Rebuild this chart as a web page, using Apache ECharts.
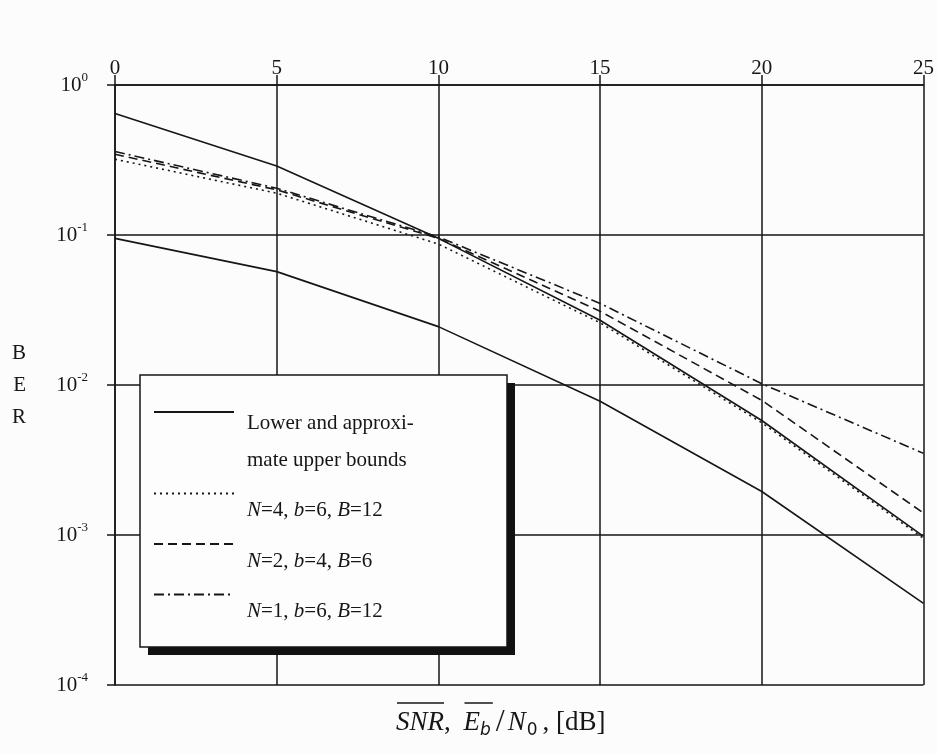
<!DOCTYPE html>
<html>
<head>
<meta charset="utf-8">
<script src="https://cdn.jsdelivr.net/npm/echarts@6/dist/echarts.min.js"></script>
<style>
  html, body { margin: 0; padding: 0; background: #fcfcfc; }
  #chart { width: 937px; height: 754px; }
</style>
</head>
<body>
<div id="chart"></div>
<script>
// SNR / Eb/N0 sample points in dB
const snrDb = [0, 5, 10, 15, 20, 25];
// Lower bound and approximate upper bound (solid curves)
const upperBound = [0.645, 0.288, 0.095, 0.027, 0.0058, 0.00098];
const lowerBound = [0.095, 0.057, 0.0245, 0.0078, 0.00195, 0.00035];
// Simulated BER for the three configurations
const berN4 = [0.32, 0.19, 0.087, 0.026, 0.0056, 0.00095];
const berN2 = [0.345, 0.2, 0.095, 0.031, 0.0079, 0.0014];
const berN1 = [0.36, 0.205, 0.097, 0.035, 0.0102, 0.0035];
// Axis ticks
const xTicks = [0, 5, 10, 15, 20, 25];
const yExponents = [0, -1, -2, -3, -4];

const BOUNDS = 'Lower and approximate upper bounds';
const NAME_N4 = 'N=4, b=6, B=12';
const NAME_N2 = 'N=2, b=4, B=6';
const NAME_N1 = 'N=1, b=6, B=12';

const ink = '#161616';
const paper = '#fcfcfc';
const serif = '"Liberation Serif", "DejaVu Serif", serif';

function pairs(ys) { return snrDb.map((x, i) => [x, ys[i]]); }

function curve(name, ys, type) {
  return {
    name: name,
    type: 'line',
    data: pairs(ys),
    symbol: 'none',
    smooth: false,
    z: 3,
    lineStyle: { color: ink, width: 1.6, type: type },
    itemStyle: { color: ink }
  };
}

const chart = echarts.init(document.getElementById('chart'), null, { renderer: 'canvas' });

// measure the axis title pieces so the overbars can sit on SNR and E_b
const ctx = document.createElement('canvas').getContext('2d');
function w(text, size, italic, family) {
  ctx.font = (italic ? 'italic ' : '') + size + 'px ' + (family || '"Liberation Serif"');
  return ctx.measureText(text).width;
}
const titleX = 396, titleY = 707, titleSize = 27, subSize = 17;
const commaPad = 6;
const wSNR = w('SNR', titleSize, true);
const wComma = w(', ', titleSize, false);
const wE = w('E', titleSize, true);
const wb = w('b', subSize, true, '"DejaVu Sans"');
const eStart = titleX + wSNR + wComma + commaPad;

const supRich = {
  b: { fontFamily: serif, fontSize: 21, lineHeight: 28, color: ink },
  s: { fontFamily: serif, fontSize: 13, lineHeight: 13, verticalAlign: 'top', color: ink }
};

const option = {
  backgroundColor: paper,
  animation: false,
  grid: { left: 115, right: 12, top: 85, bottom: 69 },
  xAxis: {
    type: 'value',
    position: 'top',
    min: 0,
    max: 25,
    interval: 5,
    axisLine: { show: true, lineStyle: { color: ink, width: 1.5 } },
    axisTick: { show: true, length: 10, lineStyle: { color: ink, width: 1.5 } },
    axisLabel: {
      margin: 6,
      fontFamily: serif,
      fontSize: 21,
      color: ink,
      formatter: (v) => xTicks.indexOf(v) >= 0 ? String(v) : ''
    },
    splitLine: { show: true, lineStyle: { color: ink, width: 1.5 } }
  },
  yAxis: {
    type: 'log',
    logBase: 10,
    min: 1e-4,
    max: 1,
    name: 'B\nE\nR',
    nameLocation: 'middle',
    nameRotate: 0,
    nameGap: 89,
    nameTextStyle: { fontFamily: serif, fontSize: 21, lineHeight: 32, color: ink },
    axisLine: { show: true, lineStyle: { color: ink, width: 1.5 } },
    axisTick: { show: true, length: 8, lineStyle: { color: ink, width: 1.5 } },
    minorTick: { show: false },
    axisLabel: {
      margin: 27,
      formatter: (v) => {
        const e = Math.round(Math.log10(v));
        return yExponents.indexOf(e) >= 0 ? '{b|10}{s|' + e + '}' : '';
      },
      rich: supRich
    },
    splitLine: { show: true, lineStyle: { color: ink, width: 1.5 } }
  },
  legend: {
    orient: 'vertical',
    left: 153,
    top: 354,
    padding: 0,
    itemWidth: 80,
    itemHeight: 14,
    itemGap: -2,
    z: 10,
    selectedMode: false,
    itemStyle: { color: 'rgba(0,0,0,0)', borderColor: 'rgba(0,0,0,0)', borderWidth: 0, opacity: 0 },
    data: [
      {
        name: BOUNDS,
        textStyle: {
          padding: [42, 0, 0, 8],
          rich: {
            l1: { fontFamily: serif, fontSize: 21, lineHeight: 54, color: ink },
            l2: { fontFamily: serif, fontSize: 21, lineHeight: 20, color: ink }
          }
        }
      },
      { name: NAME_N4 },
      { name: NAME_N2 },
      { name: NAME_N1 }
    ],
    textStyle: {
      padding: [34, 0, 0, 8],
      lineHeight: 16,
      rich: {
        t: { fontFamily: serif, fontSize: 21, lineHeight: 16, color: ink },
        i: { fontFamily: serif, fontSize: 21, lineHeight: 16, fontStyle: 'italic', color: ink }
      }
    },
    formatter: (name) => {
      if (name === BOUNDS) return '{l1|Lower and approxi-}\n{l2|mate upper bounds}';
      return name.split(/(N|b|B)(?==)/).filter(s => s !== '')
        .map(s => (s === 'N' || s === 'b' || s === 'B') ? '{i|' + s + '}' : '{t|' + s + '}').join('');
    }
  },
  graphic: [
    // drop shadow of the legend box
    {
      type: 'rect',
      z: 5,
      shape: { x: 148, y: 383, width: 367, height: 272 },
      style: { fill: '#111' }
    },
    // legend box
    {
      type: 'rect',
      z: 6,
      shape: { x: 140, y: 375, width: 367, height: 272 },
      style: { fill: '#fdfdfd', stroke: ink, lineWidth: 1.5 }
    },
    {
      type: 'text',
      z: 5,
      x: titleX,
      y: titleY,
      style: {
        text: '{i|SNR}{c|, }{i|E}{sub|b}{sl|/}{i|N}{sub0|0}{t|, [dB]}',
        verticalAlign: 'top',
        rich: {
          i: { fontFamily: serif, fontSize: titleSize, fontStyle: 'italic', lineHeight: 32, fill: ink, verticalAlign: 'middle' },
          c: { fontFamily: serif, fontSize: titleSize, lineHeight: 32, fill: ink, verticalAlign: 'middle', padding: [0, commaPad, 0, 0] },
          t: { fontFamily: serif, fontSize: titleSize, lineHeight: 32, fill: ink, verticalAlign: 'middle', padding: [0, 0, 0, 3] },
          sl: { fontFamily: serif, fontSize: 32, lineHeight: 32, fill: ink, verticalAlign: 'middle', padding: [0, 3, 0, 5] },
          sub: { fontFamily: '"DejaVu Sans", sans-serif', fontSize: subSize, fontStyle: 'italic', lineHeight: 17, fill: ink, verticalAlign: 'bottom' },
          sub0: { fontFamily: '"DejaVu Sans", sans-serif', fontSize: subSize, lineHeight: 17, fill: ink, verticalAlign: 'bottom', padding: [0, 2, 0, 1] }
        }
      }
    },
    {
      type: 'line',
      z: 5,
      shape: { x1: titleX + 1, y1: titleY - 4, x2: titleX + wSNR, y2: titleY - 4 },
      style: { stroke: ink, lineWidth: 1.5 }
    },
    {
      type: 'line',
      z: 5,
      shape: { x1: eStart + 1, y1: titleY - 4, x2: eStart + wE + wb + 2, y2: titleY - 4 },
      style: { stroke: ink, lineWidth: 1.5 }
    }
  ],
  series: [
    curve(BOUNDS, upperBound, 'solid'),
    curve(BOUNDS, lowerBound, 'solid'),
    curve(NAME_N4, berN4, [2, 4]),
    curve(NAME_N2, berN2, [9, 5]),
    curve(NAME_N1, berN1, [10, 4, 2, 4])
  ]
};

chart.setOption(option);
</script>
</body>
</html>
